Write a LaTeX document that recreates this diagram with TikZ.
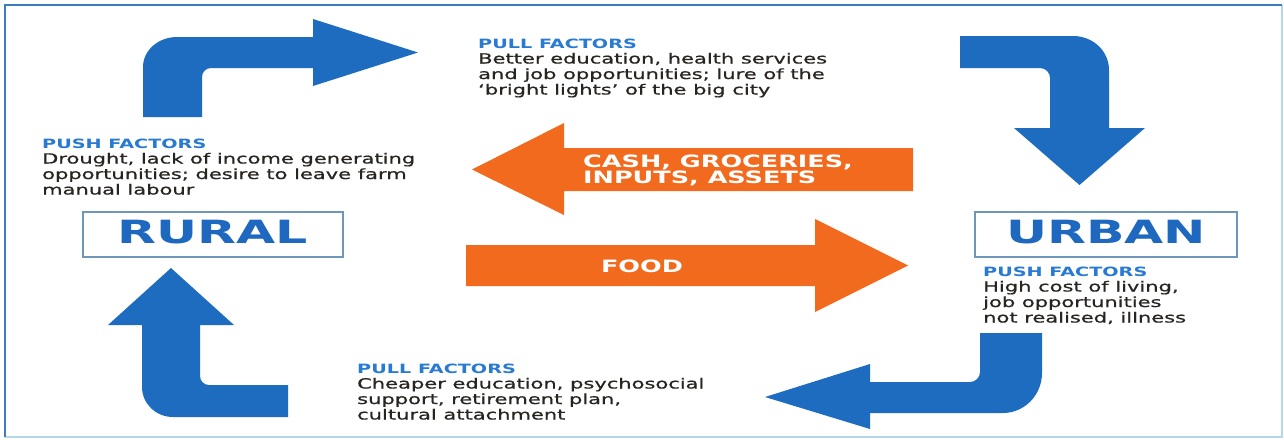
\documentclass[tikz,border=0pt]{standalone}
\usepackage{fontspec}
\newfontfamily\bodyf[FakeStretch=1.5,FakeBold=0.7]{DejaVu Sans}
\newfontfamily\headf[FakeStretch=1.5]{DejaVu Sans}
\newfontfamily\bigf[FakeStretch=1.58]{DejaVu Sans}
\definecolor{arrowblue}{RGB}{30,108,192}
\definecolor{orng}{RGB}{242,106,30}
\definecolor{headblue}{RGB}{40,122,210}
\definecolor{bodytext}{RGB}{40,36,32}
\definecolor{boxline}{RGB}{110,150,185}
\definecolor{frameblue}{RGB}{60,125,190}
\definecolor{framelight}{RGB}{180,215,235}
\definecolor{titleblue}{RGB}{30,104,192}
\tikzset{
  bluearrow/.style={fill=arrowblue},
  orangearrow/.style={fill=orng},
  factor/.style={anchor=base west, align=left, inner sep=0pt, text=bodytext,
    font=\bodyf\fontsize{14}{15.5}\selectfont},
  placebox/.style={draw=boxline, line width=1.2pt, minimum height=45pt,
    inner sep=0pt, text height=23pt, text depth=6pt, text=titleblue,
    font=\bigf\bfseries\fontsize{32}{32}\selectfont},
  flowlabel/.style={text=white, inner sep=0pt, align=left,
    font=\headf\bfseries\fontsize{17}{16}\selectfont}
}
\newcommand{\fhead}[1]{{\headf\color{headblue}\bfseries\fontsize{12.8}{15.5}\selectfont #1}}
\begin{document}
\begin{tikzpicture}[x=1pt,y=-1pt]
\useasboundingbox[fill=white] (0,0) rectangle (1284,439);
% frame
\draw[framelight, line width=2pt] (1282,5) -- (1282,437) -- (5,437);
\draw[frameblue, line width=2pt] (5,437) -- (5,5) -- (1282,5);

% blue bent arrows
\fill[bluearrow] (143,117) -- (143,67) .. controls (143,50.4) and (158.2,37) .. (177,37)
  -- (313,37) -- (313,19) -- (418,52.5) -- (313,86) -- (313,68) -- (211,68)
  .. controls (206,68) and (202,72) .. (202,77) -- (202,117) -- cycle;
\fill[bluearrow] (960,36) -- (1073,36) .. controls (1093,36) and (1109,51) .. (1109,70)
  -- (1109,128) -- (1145,128) -- (1079.5,185) -- (1014,128) -- (1050,128) -- (1050,78)
  .. controls (1050,72.5) and (1045.5,68) .. (1040,68) -- (960,68) -- cycle;
\fill[bluearrow] (288,385) -- (209,385) .. controls (204,385) and (200,381) .. (200,376)
  -- (200,325) -- (234,325) -- (171,268) -- (108,325) -- (142,325) -- (142,387)
  .. controls (142,403.6) and (155.9,417) .. (173,417) -- (288,417) -- cycle;
\fill[bluearrow] (1042,333) -- (1042,373) .. controls (1042,395) and (1024.5,413) .. (1003,413)
  -- (870,413) -- (870,429) -- (765,397) -- (870,364) -- (870,382) -- (970,382)
  .. controls (975.5,382) and (980,377.5) .. (980,372) -- (980,333) -- cycle;

% orange arrows
\fill[orangearrow] (913,148) -- (564,148) -- (564,123) -- (472,169.5) -- (564,215)
  -- (564,191) -- (913,191) -- cycle;
\fill[orangearrow] (466,245) -- (815,245) -- (815,219) -- (908,265.5) -- (815,312)
  -- (815,286) -- (466,286) -- cycle;
\node[flowlabel, anchor=base west] (cash) at (583,183) {CASH, GROCERIES,\\INPUTS, ASSETS};
\node[flowlabel, anchor=base] (food) at (642,272) {FOOD};

% place boxes
\node[placebox, minimum width=260pt] (rural) at (213,234.5) {RURAL};
\node[placebox, minimum width=262pt] (urban) at (1106,234.5) {URBAN};

% factor texts (anchor at baseline of the last line)
\node[factor] (pushrural) at (42,194.5) {\fhead{PUSH FACTORS}\\Drought, lack of income generating\\opportunities; desire to leave farm\\manual labour};
\node[factor] (pullurban) at (478,94.5) {\fhead{PULL FACTORS}\\Better education, health services\\and job opportunities; lure of the\\‘bright lights’ of the big city};
\node[factor] (pushurban) at (983,322.5) {\fhead{PUSH FACTORS}\\High cost of living,\\job opportunities\\not realised, illness};
\node[factor] (pullrural) at (357,419.5) {\fhead{PULL FACTORS}\\Cheaper education, psychosocial\\support, retirement plan,\\cultural attachment};
\end{tikzpicture}
\end{document}
